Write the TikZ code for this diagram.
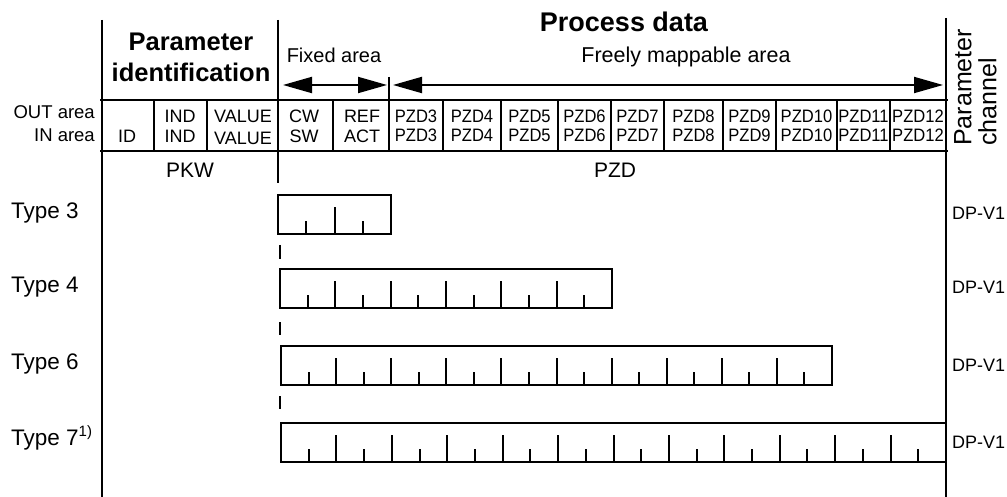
\documentclass[tikz,border=0pt]{standalone}
\usepackage{fontspec}
\setmainfont{Liberation Sans}
\usetikzlibrary{arrows.meta}
\tikzset{
  frame/.style={line width=2.2pt},
  boxline/.style={line width=2pt},
  fs/.style={font=\fontsize{#1}{#1}\selectfont},
  fsb/.style={font=\fontsize{#1}{#1}\selectfont\bfseries},
  txt/.style={inner sep=0pt, anchor=base},
  pzdtxt/.style={txt, fs=18, xscale=0.92},
  dblarrow/.style={line width=2pt, {Triangle[length=29pt,width=16pt]}-{Triangle[length=29pt,width=16pt]}},
}
\begin{document}
\begin{tikzpicture}[x=1pt,y=-1pt]
\useasboundingbox (0,0) rectangle (1007,497);
% main frame lines
\coordinate (Lt) at (102,20);  \coordinate (Lb) at (102,497);
\coordinate (Mt) at (278,20);  \coordinate (Mb) at (278,183);
\coordinate (Rt) at (946,18);  \coordinate (Rb) at (946,497);
\coordinate (H1l) at (100,100); \coordinate (H1r) at (948,100);
\coordinate (H2l) at (100,151); \coordinate (H2r) at (948,151);
\draw[frame] (Lt) -- (Lb);
\draw[frame] (Mt) -- (Mb);
\draw[frame] (Rt) -- (Rb);
\draw[frame] (H1l) -- (H1r);
\draw[frame] (H2l) -- (H2r);
% cell dividers
\foreach \x in {154,207,333,443,501,558,611,664,723,776,837,890}
  \draw[boxline] (\x,100) -- (\x,151);
\coordinate (Sept) at (389,77); \coordinate (Sepb) at (389,151);
\draw[boxline] (Sept) -- (Sepb);
% dashes between types
\foreach \ya/\yb in {245/259, 322/335, 396/409}
  \draw[boxline] (280,\ya) -- (280,\yb);
% header texts
\node[txt,fsb=25.5] (pid1) at (191,51) {Parameter};
\node[txt,fsb=25.5] (pid2) at (191,82) {identification};
\node[txt,fsb=27] (pdata) at (624,32) {Process data};
\node[txt,fs=20] (fixed) at (334,63) {Fixed area};
\node[txt,fs=21.5] (freely) at (686,63) {Freely mappable area};
\coordinate (fa1) at (283,85); \coordinate (fa2) at (387,85);
\coordinate (fr1) at (393,85); \coordinate (fr2) at (943,85);
\draw[dblarrow] (fa1) -- (fa2);
\draw[dblarrow] (fr1) -- (fr2);
\node[txt,fs=25,rotate=90,anchor=north west,align=left,inner sep=0pt] (pch) at (954,146) {Parameter\\[0pt]channel};
% row labels
\node[txt,fs=18.5,anchor=base east] (outa) at (95,119) {OUT area};
\node[txt,fs=18.5,anchor=base east] (ina) at (95,142) {IN area};
% cells
\node[txt,fs=18] (cid) at (127,143) {ID};
\node[txt,fs=18] (cind1) at (180,123) {IND};
\node[txt,fs=18] (cind2) at (180,143) {IND};
\node[txt,fs=18] (cval1) at (243,123) {VALUE};
\node[txt,fs=18] (cval2) at (243,145) {VALUE};
\node[txt,fs=18] (ccw) at (304,123) {CW};
\node[txt,fs=18] (csw) at (304,143) {SW};
\node[txt,fs=18] (cref) at (362,123) {REF};
\node[txt,fs=18] (cact) at (362,143) {ACT};
\foreach \a/\b/\n in {389/443/3,443/501/4,501/558/5,558/611/6,611/664/7,664/723/8,723/776/9,776/837/10,837/890/11,890/946/12}{
  \node[pzdtxt] (po\n) at ({(\a+\b)/2},123) {PZD\n};
  \node[pzdtxt] (pi\n) at ({(\a+\b)/2},142) {PZD\n};
}
\node[txt,fs=21] (pkw) at (190,178) {PKW};
\node[txt,fs=21] (pzd) at (615,178) {PZD};
% type boxes
\foreach \xa/\xb/\ya/\n/\lab in {278/391/195/2/3, 280/612/269/6/4, 281/832/346/10/6, 281/946/423/12/7}{
  \draw[boxline] (\xa,\ya) rectangle (\xb,\ya+39);
  \pgfmathsetmacro\w{(\xb-\xa)/(2*\n)}
  \pgfmathtruncatemacro\m{2*\n-1}
  \foreach \k in {1,...,\m}{
    \pgfmathsetmacro\h{mod(\k,2)==0 ? 27 : 13}
    \draw[boxline] (\xa+\k*\w,\ya+39) -- ++(0,-\h);
  }
  \node[txt,fs=18,anchor=base west] (dp\lab) at (952,\ya+25) {DP-V1};
}
\node[txt,fs=22.5,anchor=base west] (t3) at (11,219) {Type 3};
\node[txt,fs=22.5,anchor=base west] (t4) at (11,292) {Type 4};
\node[txt,fs=22.5,anchor=base west] (t6) at (11,369) {Type 6};
\node[txt,fs=22.5,anchor=base west] (t7) at (11,445) {Type 7\raisebox{9pt}{\fontsize{15}{15}\selectfont 1)}};
\end{tikzpicture}
\end{document}
